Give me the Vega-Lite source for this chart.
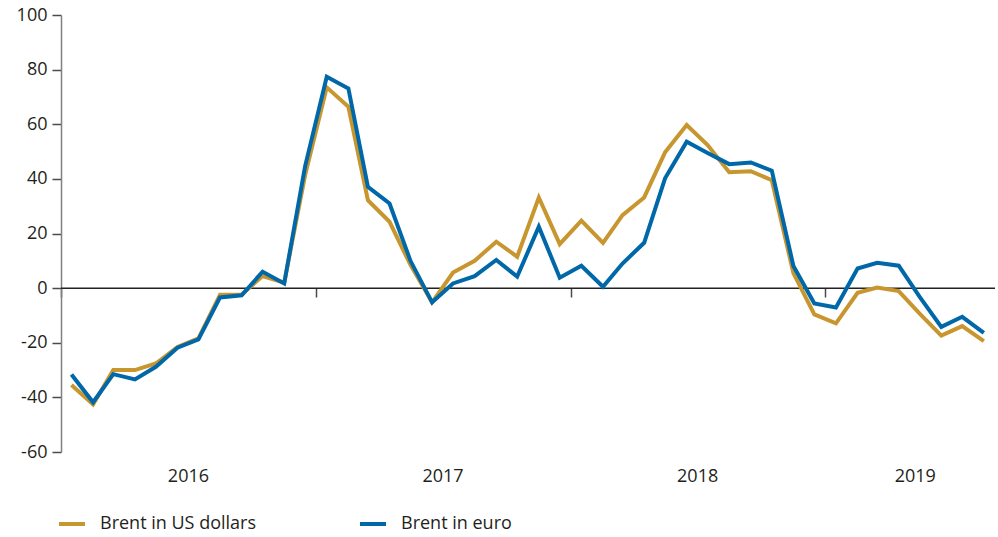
{
  "$schema": "https://vega.github.io/schema/vega-lite/v6.json",
  "width": 934,
  "height": 437,
  "autosize": {"type": "none"},
  "padding": {"left": 61, "top": 15, "right": 3, "bottom": 85},
  "background": "white",
  "config": {
    "font": "Open Sans",
    "view": {"stroke": null},
    "axis": {"grid": false}
  },
  "layer": [
    {
      "data": {"values": [{"baseline": 0}]},
      "mark": {"type": "rule", "color": "#222222", "strokeWidth": 1.5},
      "encoding": {
        "x": {
          "datum": {"year": 2016, "month": 1, "date": 1, "utc": true},
          "type": "temporal",
          "axis": {
            "orient": "bottom",
            "offset": -164,
            "values": [
              {"year": 2016, "month": 1, "date": 1, "utc": true},
              {"year": 2017, "month": 1, "date": 1, "utc": true},
              {"year": 2018, "month": 1, "date": 1, "utc": true},
              {"year": 2019, "month": 1, "date": 1, "utc": true}
            ],
            "labels": false,
            "domain": false,
            "ticks": true,
            "tickSize": 9,
            "tickColor": "#4a4a4a",
            "tickWidth": 1.5,
            "title": null
          }
        },
        "x2": {"datum": {"year": 2019, "month": 9, "date": 1, "utc": true}},
        "y": {"field": "baseline", "type": "quantitative"}
      }
    },
    {
      "data": {
        "values": [
          {"date": "2016-01-16", "Brent in US dollars": -35.5, "Brent in euro": -31.6},
          {"date": "2016-02-16", "Brent in US dollars": -42.6, "Brent in euro": -41.8},
          {"date": "2016-03-16", "Brent in US dollars": -30.0, "Brent in euro": -31.5},
          {"date": "2016-04-16", "Brent in US dollars": -30.0, "Brent in euro": -33.4},
          {"date": "2016-05-16", "Brent in US dollars": -27.6, "Brent in euro": -28.8},
          {"date": "2016-06-16", "Brent in US dollars": -21.6, "Brent in euro": -21.8},
          {"date": "2016-07-16", "Brent in US dollars": -18.4, "Brent in euro": -18.8},
          {"date": "2016-08-16", "Brent in US dollars": -2.4, "Brent in euro": -3.4},
          {"date": "2016-09-16", "Brent in US dollars": -2.3, "Brent in euro": -2.6},
          {"date": "2016-10-16", "Brent in US dollars": 4.4, "Brent in euro": 6.0},
          {"date": "2016-11-16", "Brent in US dollars": 2.0, "Brent in euro": 1.7},
          {"date": "2016-12-16", "Brent in US dollars": 41.4, "Brent in euro": 44.7},
          {"date": "2017-01-16", "Brent in US dollars": 73.5, "Brent in euro": 77.4},
          {"date": "2017-02-16", "Brent in US dollars": 66.4, "Brent in euro": 73.1},
          {"date": "2017-03-16", "Brent in US dollars": 32.2, "Brent in euro": 37.1},
          {"date": "2017-04-16", "Brent in US dollars": 24.3, "Brent in euro": 31.0},
          {"date": "2017-05-16", "Brent in US dollars": 8.5, "Brent in euro": 10.0},
          {"date": "2017-06-16", "Brent in US dollars": -5.2, "Brent in euro": -5.2},
          {"date": "2017-07-16", "Brent in US dollars": 5.7, "Brent in euro": 1.7},
          {"date": "2017-08-16", "Brent in US dollars": 10.0, "Brent in euro": 4.4},
          {"date": "2017-09-16", "Brent in US dollars": 17.0, "Brent in euro": 10.3},
          {"date": "2017-10-16", "Brent in US dollars": 11.5, "Brent in euro": 4.2},
          {"date": "2017-11-16", "Brent in US dollars": 33.2, "Brent in euro": 22.5},
          {"date": "2017-12-16", "Brent in US dollars": 16.1, "Brent in euro": 3.8},
          {"date": "2018-01-16", "Brent in US dollars": 24.7, "Brent in euro": 8.2},
          {"date": "2018-02-16", "Brent in US dollars": 16.6, "Brent in euro": 0.5},
          {"date": "2018-03-16", "Brent in US dollars": 26.7, "Brent in euro": 9.0},
          {"date": "2018-04-16", "Brent in US dollars": 33.2, "Brent in euro": 16.6},
          {"date": "2018-05-16", "Brent in US dollars": 49.7, "Brent in euro": 40.2},
          {"date": "2018-06-16", "Brent in US dollars": 59.7, "Brent in euro": 53.6},
          {"date": "2018-07-16", "Brent in US dollars": 52.4, "Brent in euro": 49.5},
          {"date": "2018-08-16", "Brent in US dollars": 42.4, "Brent in euro": 45.4},
          {"date": "2018-09-16", "Brent in US dollars": 42.8, "Brent in euro": 46.0},
          {"date": "2018-10-16", "Brent in US dollars": 39.5, "Brent in euro": 43.0},
          {"date": "2018-11-16", "Brent in US dollars": 5.5, "Brent in euro": 8.1},
          {"date": "2018-12-16", "Brent in US dollars": -9.6, "Brent in euro": -5.6},
          {"date": "2019-01-16", "Brent in US dollars": -12.9, "Brent in euro": -7.1},
          {"date": "2019-02-16", "Brent in US dollars": -1.7, "Brent in euro": 7.2},
          {"date": "2019-03-16", "Brent in US dollars": 0.2, "Brent in euro": 9.3},
          {"date": "2019-04-16", "Brent in US dollars": -1.1, "Brent in euro": 8.2},
          {"date": "2019-05-16", "Brent in US dollars": -9.3, "Brent in euro": -3.2},
          {"date": "2019-06-16", "Brent in US dollars": -17.4, "Brent in euro": -14.2},
          {"date": "2019-07-16", "Brent in US dollars": -13.9, "Brent in euro": -10.5},
          {"date": "2019-08-16", "Brent in US dollars": -19.4, "Brent in euro": -16.4}
        ]
      },
      "transform": [
        {"fold": ["Brent in US dollars", "Brent in euro"], "as": ["series", "value"]}
      ],
      "mark": {"type": "line", "strokeWidth": 4},
      "encoding": {
        "x": {
          "field": "date",
          "type": "temporal",
          "scale": {
            "type": "utc",
            "domain": [
              {"year": 2016, "month": 1, "date": 1, "utc": true},
              {"year": 2019, "month": 9, "date": 1, "utc": true}
            ]
          },
          "axis": {
            "orient": "bottom",
            "values": [
              {"year": 2016, "month": 7, "date": 1, "utc": true},
              {"year": 2017, "month": 7, "date": 1, "utc": true},
              {"year": 2018, "month": 7, "date": 1, "utc": true},
              {"year": 2019, "month": 5, "date": 9, "utc": true}
            ],
            "labelExpr": "utcFormat(datum.value, '%Y')",
            "domain": false,
            "ticks": false,
            "tickSize": 0,
            "labelPadding": 15,
            "labelFontSize": 18,
            "labelColor": "#231f20",
            "title": null
          }
        },
        "y": {
          "field": "value",
          "type": "quantitative",
          "scale": {"domain": [-60, 100], "nice": false, "zero": false},
          "axis": {
            "values": [-60, -40, -20, 0, 20, 40, 60, 80, 100],
            "labelExpr": "'' + datum.value",
            "domainColor": "#808080",
            "domainWidth": 1.5,
            "tickColor": "#4a4a4a",
            "tickWidth": 1.5,
            "tickSize": 9,
            "labelPadding": 5,
            "labelFontSize": 18,
            "labelColor": "#231f20",
            "title": null
          }
        },
        "color": {
          "field": "series",
          "type": "nominal",
          "scale": {
            "domain": ["Brent in US dollars", "Brent in euro"],
            "range": ["#C8962E", "#0068A8"]
          },
          "legend": {
            "title": null,
            "orient": "none",
            "direction": "horizontal",
            "legendX": -4,
            "legendY": 494,
            "symbolType": "stroke",
            "symbolSize": 676,
            "symbolStrokeWidth": 4,
            "labelOffset": 13,
            "labelFontSize": 18,
            "labelColor": "#231f20",
            "columnPadding": 95
          }
        }
      }
    }
  ],
  "resolve": {"axis": {"x": "independent"}}
}
